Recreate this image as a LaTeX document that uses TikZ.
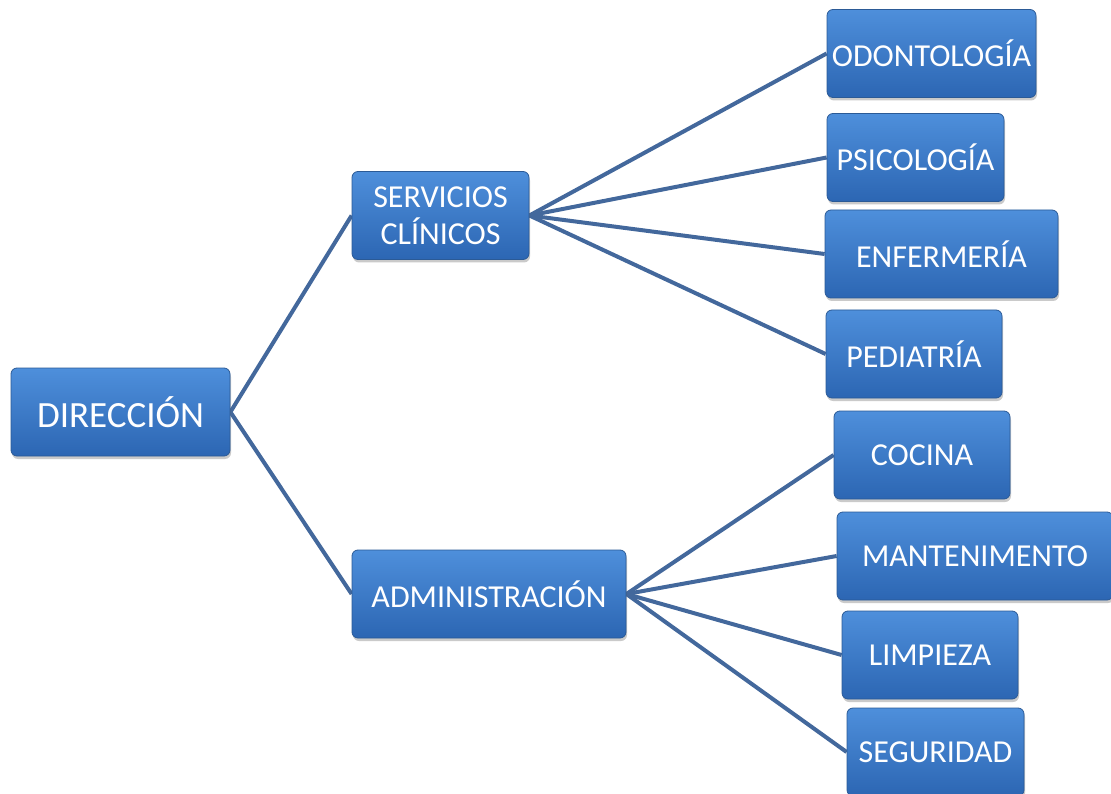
\documentclass[tikz,border=0pt]{standalone}
\usepackage{fontspec}
\setmainfont{Carlito}
\usetikzlibrary{shadows,backgrounds}
\definecolor{boxtop}{HTML}{4E8FDB}
\definecolor{boxbot}{HTML}{2C66B3}
\definecolor{boxedge}{HTML}{2B5A96}
\definecolor{linkcol}{HTML}{43689C}
\tikzset{
  orgbox/.style={rectangle, rounded corners=6pt, draw=boxedge, line width=0.8pt,
    top color=boxtop, bottom color=boxbot, text=white, align=center,
    inner sep=0pt, minimum height=88pt,
    drop shadow={shadow xshift=1pt, shadow yshift=-3pt, opacity=0.35, fill=black!60},
    font=\fontsize{32}{37}\selectfont},
  bigbox/.style={orgbox, font=\fontsize{37}{41}\selectfont},
  link/.style={draw=linkcol, line width=4pt}
}
\begin{document}
\begin{tikzpicture}[x=1pt,y=-1pt]
\useasboundingbox (0,0) rectangle (1111,794);
\node[bigbox, minimum width=219pt] (dir) at (120.5,412) {DIRECCIÓN};
\node[orgbox, minimum width=177pt] (ser) at (440.5,215.5) {SERVICIOS\\CLÍNICOS};
\node[orgbox, minimum width=274pt] (adm) at (489,594) {ADMINISTRACIÓN};
\node[orgbox, minimum width=209pt] (odo) at (931.5,53.5) {ODONTOLOGÍA};
\node[orgbox, minimum width=177pt] (psi) at (915.5,157.5) {PSICOLOGÍA};
\node[orgbox, minimum width=233pt] (enf) at (941.5,254) {ENFERMERÍA};
\node[orgbox, minimum width=176pt] (ped) at (914,354) {PEDIATRÍA};
\node[orgbox, minimum width=176pt] (coc) at (922,455) {COCINA};
\node[orgbox, minimum width=276pt] (man) at (975,556) {MANTENIMENTO};
\node[orgbox, minimum width=176pt] (lim) at (930,655) {LIMPIEZA};
\node[orgbox, minimum width=177pt] (seg) at (935.5,752) {SEGURIDAD};
\begin{scope}[on background layer]
\draw[link] (dir.east) -- (ser.west);
\draw[link] (dir.east) -- (adm.west);
\foreach \c in {odo,psi,enf,ped} \draw[link] (ser.east) -- (\c.west);
\foreach \c in {coc,man,lim,seg} \draw[link] (adm.east) -- (\c.west);
\end{scope}
\end{tikzpicture}
\end{document}
